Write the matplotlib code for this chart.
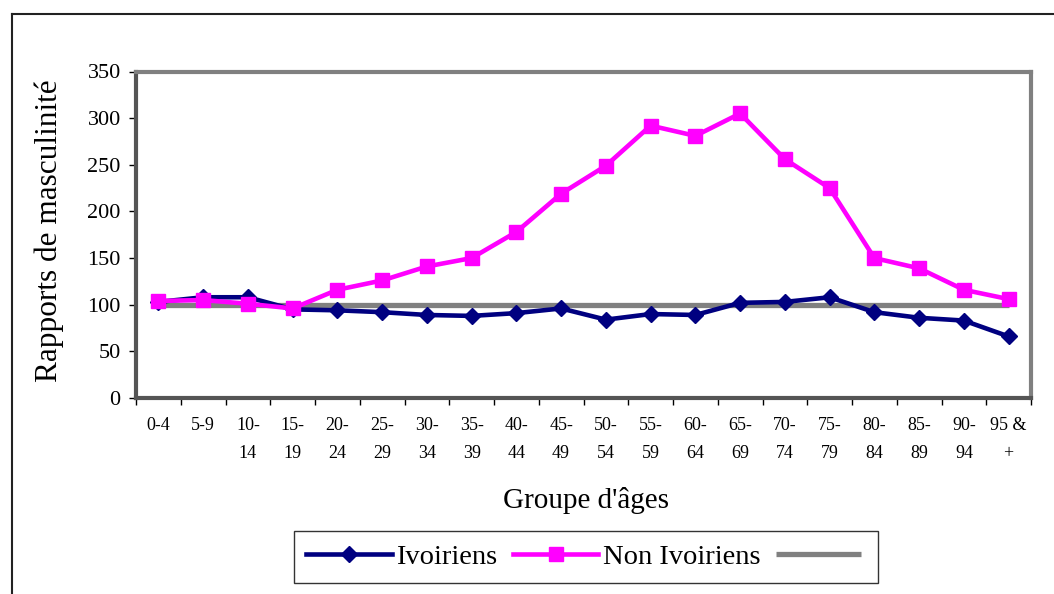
import numpy as np
import matplotlib
matplotlib.use("Agg")
import matplotlib.pyplot as plt
from matplotlib.lines import Line2D

plt.rcParams["font.family"] = ["Liberation Serif", "DejaVu Serif"]

# data
age_groups = ["0-4", "5-9", "10-\n14", "15-\n19", "20-\n24", "25-\n29", "30-\n34",
              "35-\n39", "40-\n44", "45-\n49", "50-\n54", "55-\n59", "60-\n64",
              "65-\n69", "70-\n74", "75-\n79", "80-\n84", "85-\n89", "90-\n94", "95 &\n+"]
ivoiriens = [103, 108, 108, 95, 94, 92, 89, 88, 91, 96,
             84, 90, 89, 102, 103, 108, 92, 86, 83, 66]
non_ivoiriens = [104, 105, 101, 96, 116, 126, 141, 150, 178, 219,
                 249, 292, 281, 305, 256, 225, 150, 139, 116, 106]
ref_level = 100

W, H = 1054, 594
fig = plt.figure(figsize=(W / 100, H / 100), dpi=100)
ax = fig.add_axes([136 / W, 1 - 398 / H, (1031 - 136) / W, (398 - 71.5) / H])

x = np.arange(len(age_groups))
l_ref, = ax.plot(x, [ref_level] * len(x), color="#808080", lw=3.8, zorder=2,
                 solid_capstyle="butt")
l_ivo, = ax.plot(x, ivoiriens, color="#000080", lw=3.3, marker="D", ms=8,
                 zorder=3)
l_non, = ax.plot(x, non_ivoiriens, color="#FF00FF", lw=3.3, marker="s", ms=10,
                 zorder=4)

ax.set_xlim(-0.5, len(x) - 0.5)
ax.set_ylim(0, 350)
ax.set_yticks(range(0, 351, 50))
ax.set_xticks(x)
ax.set_xticklabels(age_groups, fontsize=13, linespacing=1.8, va="top")
ax.set_xticks(np.arange(-0.5, len(x), 1), minor=True)
ax.tick_params(axis="x", which="major", length=0, pad=14)
ax.tick_params(axis="x", which="minor", length=5, width=1, color="black", direction="out")
ax.tick_params(axis="y", length=5, width=1, color="black", labelsize=16, pad=6)

for s in ax.spines.values():
    s.set_color("#808080")
    s.set_linewidth(3)
ax.spines["left"].set_color("#555555")
ax.spines["bottom"].set_color("#555555")

fig.text(49 / W, 1 - 231 / H, "Rapports de masculinité", rotation=90,
         ha="center", va="center", fontsize=22.5)
fig.text(586 / W, 1 - 500 / H, "Groupe d'âges", ha="center", va="center",
         fontsize=21)

leg = fig.legend([l_ivo, l_non, l_ref], ["Ivoiriens", "Non Ivoiriens", ""],
                 loc="center", bbox_to_anchor=((294 + 878) / 2 / W, 1 - 557 / H),
                 ncol=3, fontsize=20.5, frameon=True, fancybox=False,
                 handlelength=3.0, handletextpad=0.15, columnspacing=0.55,
                 borderpad=0.45, borderaxespad=0)
leg.get_frame().set_edgecolor("black")
leg.get_frame().set_linewidth(1)

# outer chart frame (runs off the right and bottom edges)
fig.add_artist(Line2D([11.5 / W, 1.0], [1 - 13.5 / H] * 2, color="#222222", lw=1.5))
fig.add_artist(Line2D([11.5 / W] * 2, [0, 1 - 13.5 / H], color="#222222", lw=1.5))

fig.savefig("out.png", dpi=100)
